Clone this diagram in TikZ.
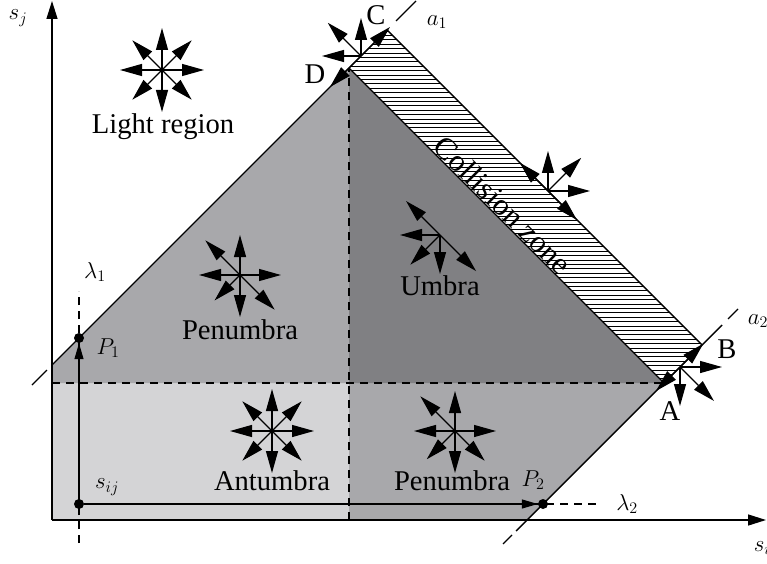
\RequirePackage{fix-cm}
\documentclass[tikz,border=0pt]{standalone}
\usepackage{amsmath}
\usepackage{fontspec}
\setmainfont{Liberation Serif}
\usetikzlibrary{arrows.meta,calc}

\definecolor{antumbragray}{RGB}{212,212,214}
\definecolor{penumbragray}{RGB}{168,168,171}
\definecolor{umbragray}{RGB}{128,128,131}

\tikzset{
  border/.style={line width=1.4pt},
  guide/.style={line width=1.2pt,dash pattern=on 8pt off 6pt},
  tail/.style={line width=1.2pt},
  ray/.style={line width=1.2pt,-{Triangle[length=22pt,width=12pt]}},
  axis/.style={line width=1.4pt,-{Triangle[length=18pt,width=11pt]}},
  feed/.style={line width=1.2pt,-{Triangle[length=16pt,width=9pt]}},
  word/.style={font=\fontsize{28.6}{31}\selectfont},
  sym/.style={font=\fontsize{23}{26}\selectfont},
  dot/.style={circle,fill=black,inner sep=0pt,minimum size=10pt},
}

\begin{document}
\begin{tikzpicture}[x=1pt,y=1pt]
  \useasboundingbox (0,0) rectangle (767,563);
  % corners of the regions
  \coordinate (O) at (52,43);
  \coordinate (Y1) at (52,198);
  \coordinate (Yd) at (52,180);
  \coordinate (D) at (349,495);
  \coordinate (Cc) at (387,533);
  \coordinate (Bc) at (702,218);
  \coordinate (Ac) at (664,180);
  \coordinate (Dm) at (349,180);
  \coordinate (Db) at (349,43);
  \coordinate (Xa) at (527,43);

  % shaded regions
  \fill[antumbragray] (O) rectangle (Dm);
  \fill[penumbragray] (Db) -- (Xa) -- (Ac) -- (Dm) -- cycle;
  \fill[penumbragray] (Yd) -- (Y1) -- (D) -- (Dm) -- cycle;
  \fill[umbragray] (D) -- (Ac) -- (Dm) -- cycle;

  % collision zone hatching
  \begin{scope}
    \clip (D) -- (Cc) -- (Bc) -- (Ac) -- cycle;
    \foreach \y in {180,184.4,...,536}
      \draw[line width=0.6pt] (340,\y) -- (710,\y);
  \end{scope}

  % dashed splits
  \draw[guide] (Yd) -- (Ac);
  \draw[guide] (Db) -- (D);

  % boundary lines a1 and a2
  \draw[border] (Y1) -- (Cc) -- (Bc);
  \draw[border] (D) -- (Ac);
  \coordinate (a2base) at (516,32);
  \coordinate (a2top) at (722,238);
  \draw[border] (a2base) -- (a2top);
  \draw[tail] (32,178) -- (47,193);
  \draw[tail] (396,542) -- (416,562);
  \draw[tail] (503,19) -- (512,28);
  \draw[tail] (728,244) -- (738,254);

  % axes
  \coordinate (xend) at (766,43);
  \coordinate (yend) at (52,562);
  \draw[axis] (O) -- (xend);
  \draw[axis] (O) -- (yend);
  \node[sym] (sj) at (18,545) {$s_j$};
  \node[sym] (si) at (762,15) {$s_i$};

  % lambda lines
  \node[dot] (sij) at (79,59) {};
  \node[dot] (P1) at (79,225) {};
  \node[dot] (P2) at (543,59) {};
  \coordinate (lam1lo) at (79,20);
  \coordinate (lam1hi) at (79,272);
  \coordinate (lam2hi) at (600,59);
  \draw[guide] (lam1lo) -- (lam1hi);
  \draw[guide] (sij) -- (lam2hi);
  \draw[feed] (sij) -- (P1);
  \draw[feed] (sij) -- (P2);
  \node[sym] (lam1) at (95,291) {$\lambda_1$};
  \node[sym] (lam2) at (627,59) {$\lambda_2$};
  \node[sym] (p1lab) at (108,215) {$P_1$};
  \node[sym] (p2lab) at (533,83) {$P_2$};
  \node[sym] (sijlab) at (107,76) {$s_{ij}$};

  % direction stars
  \coordinate (lightc) at (162,493);
  \coordinate (pentl) at (240,288);
  \coordinate (umbc) at (440,328);
  \coordinate (colc) at (548,372);
  \coordinate (cstar) at (361,507);
  \coordinate (bstar) at (680,196);
  \coordinate (pbstar) at (455,132);
  \coordinate (antc) at (272,132);
  \foreach \a in {0,45,...,315}
    \draw[ray] (lightc) -- ++(\a:42);
  \foreach \a/\r in {0/41,90/40,180/41,270/42,135/49,225/36,315/49}
    \draw[ray] (pentl) -- ++(\a:\r);
  \foreach \a/\r in {135/48,180/40,225/42,270/39,315/51}
    \draw[ray] (umbc) -- ++(\a:\r);
  \foreach \a/\r in {135/40,90/40,45/47,0/42,315/41}
    \draw[ray] (colc) -- ++(\a:\r);
  \foreach \a/\r in {90/38,135/47,180/39,45/41,225/44}
    \draw[ray] (cstar) -- ++(\a:\r);
  \foreach \a/\r in {45/33,0/42,270/39,315/48,225/34}
    \draw[ray] (bstar) -- ++(\a:\r);
  \foreach \a/\r in {0/41,90/40,180/41,270/42,135/49,225/40,315/42}
    \draw[ray] (pbstar) -- ++(\a:\r);
  \foreach \a in {0,45,...,315}
    \draw[ray] (antc) -- ++(\a:42);

  % region names
  \node[word] (lightlab) at (163,436) {Light region};
  \node[word] (pentllab) at (240,233) {Penumbra};
  \node[word] (umblab) at (440,277) {Umbra};
  \node[word] (antlab) at (272,82) {Antumbra};
  \node[word] (penbrlab) at (452,82) {Penumbra};
  \node[word,rotate=-45,font=\fontsize{31}{33}\selectfont] (collab) at (503,358) {Collision zone};
  \node[word] (clab) at (376,548) {C};
  \node[word] (dlab) at (315,489) {D};
  \node[word] (alab) at (670,152) {A};
  \node[word] (blab) at (727,214) {B};
  \node[sym] (a1lab) at (437,541) {$a_1$};
  \node[sym] (a2lab) at (758,242) {$a_2$};
\end{tikzpicture}
\end{document}
